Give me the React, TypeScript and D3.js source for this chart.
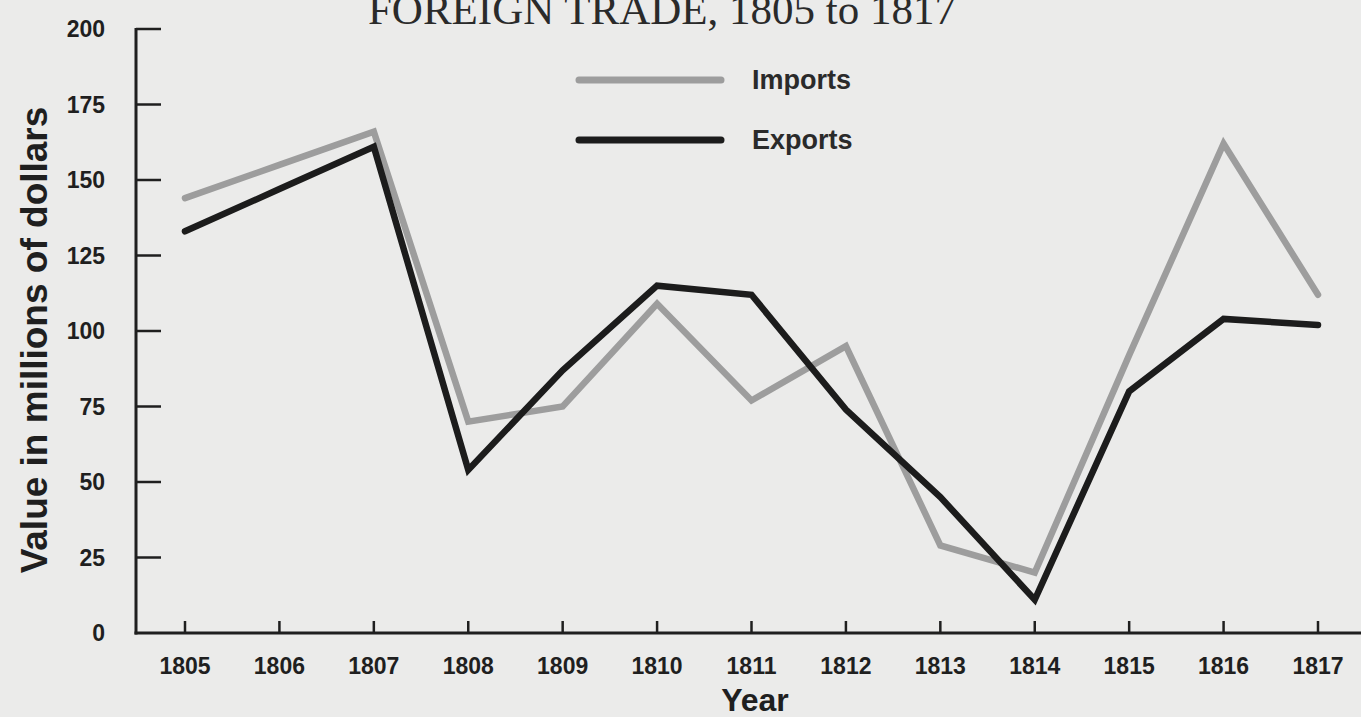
import { useEffect, useRef } from "react";
import * as d3 from "d3";

const years = [1805, 1806, 1807, 1808, 1809, 1810, 1811, 1812, 1813, 1814, 1815, 1816, 1817];
const imports = [144, 155, 166, 70, 75, 109, 77, 95, 29, 20, 92, 162, 112];
const exports = [133, 147, 161, 54, 87, 115, 112, 74, 45, 11, 80, 104, 102];
const yTicks = [0, 25, 50, 75, 100, 125, 150, 175, 200];

const W = 1361;
const H = 717;

const App = () => {
  const ref = useRef<SVGSVGElement | null>(null);

  useEffect(() => {
    if (!ref.current) return;
    const svg = d3.select(ref.current);
    svg.selectAll("*").remove();

    const ink = "#1f1f1f";
    const sans = "'Liberation Sans', Arial, sans-serif";

    svg.append("rect").attr("width", W).attr("height", H).attr("fill", "#ebebea");

    const x = d3.scaleLinear().domain([1805, 1817]).range([185, 1318]);
    const y = d3.scaleLinear().domain([0, 200]).range([633, 29]);
    const axisLeft = 136;

    // title (cut off at the top in the photo)
    svg.append("text")
      .attr("x", 662).attr("y", 24)
      .attr("text-anchor", "middle")
      .attr("font-family", "'Liberation Serif', 'Times New Roman', serif")
      .attr("font-size", 43)
      .attr("fill", "#2a2a2a")
      .text("FOREIGN TRADE, 1805 to 1817");

    // y axis
    svg.append("line")
      .attr("x1", axisLeft).attr("x2", axisLeft)
      .attr("y1", y(200) - 1).attr("y2", y(0) + 1.5)
      .attr("stroke", ink).attr("stroke-width", 3);

    const yg = svg.append("g");
    yTicks.forEach((t) => {
      if (t > 0) {
        yg.append("line")
          .attr("x1", axisLeft).attr("x2", axisLeft + 25)
          .attr("y1", y(t)).attr("y2", y(t))
          .attr("stroke", ink).attr("stroke-width", 2.5);
      }
      yg.append("text")
        .attr("x", 105).attr("y", y(t))
        .attr("dy", "0.35em")
        .attr("text-anchor", "end")
        .attr("font-family", sans)
        .attr("font-weight", "bold")
        .attr("font-size", 23)
        .attr("fill", ink)
        .text(t);
    });

    // x axis
    svg.append("line")
      .attr("x1", axisLeft - 1.5).attr("x2", W)
      .attr("y1", y(0)).attr("y2", y(0))
      .attr("stroke", ink).attr("stroke-width", 3);

    const xg = svg.append("g");
    years.forEach((yr) => {
      xg.append("line")
        .attr("x1", x(yr)).attr("x2", x(yr))
        .attr("y1", y(0)).attr("y2", y(0) - 12)
        .attr("stroke", ink).attr("stroke-width", 2.5);
      xg.append("text")
        .attr("x", x(yr)).attr("y", 674)
        .attr("text-anchor", "middle")
        .attr("font-family", sans)
        .attr("font-weight", "bold")
        .attr("font-size", 23)
        .attr("fill", ink)
        .text(yr);
    });

    svg.append("text")
      .attr("x", 755).attr("y", 711)
      .attr("text-anchor", "middle")
      .attr("font-family", sans)
      .attr("font-weight", "bold")
      .attr("font-size", 32)
      .attr("fill", ink)
      .text("Year");

    svg.append("text")
      .attr("transform", `translate(47, 340) rotate(-90)`)
      .attr("text-anchor", "middle")
      .attr("font-family", sans)
      .attr("font-weight", "bold")
      .attr("font-size", 37)
      .attr("fill", ink)
      .text("Value in millions of dollars");

    const line = d3.line<number>()
      .x((_, i) => x(years[i]))
      .y((d) => y(d));

    const series = [
      { name: "Imports", values: imports, color: "#9d9d9d" },
      { name: "Exports", values: exports, color: "#1c1c1c" },
    ];

    series.forEach((s) => {
      svg.append("path")
        .attr("d", line(s.values))
        .attr("fill", "none")
        .attr("stroke", s.color)
        .attr("stroke-width", 6.5)
        .attr("stroke-linejoin", "miter")
        .attr("stroke-linecap", "round");
    });

    // legend
    series.forEach((s, i) => {
      const ly = 80 + i * 60;
      svg.append("line")
        .attr("x1", 579).attr("x2", 721)
        .attr("y1", ly).attr("y2", ly)
        .attr("stroke", s.color)
        .attr("stroke-width", 7)
        .attr("stroke-linecap", "round");
      svg.append("text")
        .attr("x", 752).attr("y", ly)
        .attr("dy", "0.35em")
        .attr("font-family", sans)
        .attr("font-weight", "bold")
        .attr("font-size", 27)
        .attr("fill", "#2a2a2a")
        .text(s.name);
    });
  }, []);

  return (
    <div style={{ position: "fixed", left: 0, top: 0 }}>
      <svg ref={ref} width={W} height={H} style={{ display: "block" }}></svg>
    </div>
  );
};

export default App;
